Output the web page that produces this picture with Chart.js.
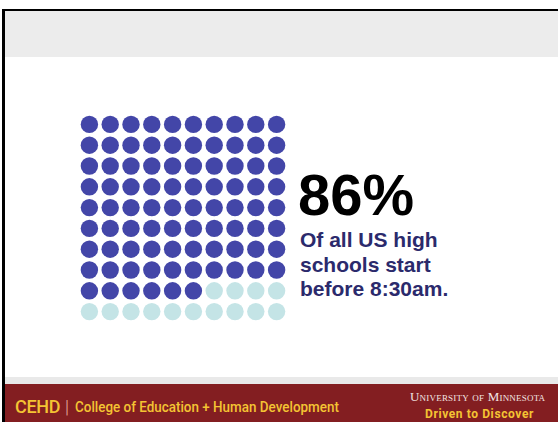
<!DOCTYPE html>
<html>
<head>
<meta charset="utf-8">
<script src="https://cdn.jsdelivr.net/npm/chart.js@4"></script>
<style>
  html, body { margin: 0; padding: 0; }
  body { width: 558px; height: 422px; position: relative; overflow: hidden; background: #fff; font-family: "Liberation Sans", Arial, sans-serif; }
  #topline { position: absolute; left: 2px; top: 9px; width: 556px; height: 2px; background: #000; }
  #leftline { position: absolute; left: 2px; top: 9px; width: 3px; height: 413px; background: #000; }
  #header { position: absolute; left: 5px; top: 11px; width: 553px; height: 46px; background: #ececec; }
  #footline { position: absolute; left: 5px; top: 377px; width: 553px; height: 7px; background: #e9e9e9; }
  #footer { position: absolute; left: 5px; top: 384px; width: 553px; height: 38px; background: #831e21; }
  #waffle { position: absolute; left: 79px; top: 114px; width: 208px; height: 208px; }
  #big { position: absolute; left: 298px; top: 160px; font-size: 58px; font-weight: bold; color: #000; line-height: 70px; }
  #sub { position: absolute; left: 300px; top: 228px; font-size: 21px; font-weight: bold; color: #2b2a6c; line-height: 24.5px; }
  #cehd { position: absolute; left: 15px; top: 396px; font-family: Roboto, sans-serif; font-weight: 500; font-size: 18px; color: #f4c433; letter-spacing: -0.3px; }
  #bar { position: absolute; left: 65px; top: 396px; font-family: Roboto, sans-serif; font-weight: 300; font-size: 18px; color: #e8b0a0; }
  #college { position: absolute; left: 75px; top: 398px; font-family: Roboto, sans-serif; font-weight: 500; font-size: 15px; color: #f4c433; transform: scaleX(0.895); transform-origin: left top; white-space: nowrap; }
  #umn { position: absolute; left: 410px; top: 389px; font-family: "Liberation Serif", serif; font-size: 13px; color: #f3e6e3; font-variant: small-caps; letter-spacing: 0.2px; white-space: nowrap; }
  #driven { position: absolute; left: 425px; top: 407px; font-family: Roboto, sans-serif; font-weight: 700; font-size: 12px; color: #f4c433; letter-spacing: 0.6px; white-space: nowrap; }
</style>
</head>
<body>
<div id="header"></div>
<div id="topline"></div>
<div id="leftline"></div>
<div id="footline"></div>
<div id="footer"></div>
<div id="waffle"><canvas id="waffleChart"></canvas></div>
<div id="big">86%</div>
<div id="sub">Of all US high<br>schools start<br>before 8:30am.</div>
<div id="cehd">CEHD</div>
<div id="bar">|</div>
<div id="college">College of Education + Human Development</div>
<div id="umn">University of Minnesota</div>
<div id="driven">Driven to Discover</div>
<script>
const percentEarly = 86;
const totalDots = 100;
const gridCols = 10;
const seriesNames = ['Start before 8:30am', 'Start 8:30am or later'];
const seriesColors = ['#4346a8', '#c4e4e6'];

const earlyDots = [];
const lateDots = [];
for (let i = 0; i < totalDots; i++) {
  const p = { x: i % gridCols, y: Math.floor(i / gridCols) };
  if (i < percentEarly) earlyDots.push(p); else lateDots.push(p);
}

new Chart(document.getElementById('waffleChart'), {
  type: 'scatter',
  data: {
    datasets: [{
      label: seriesNames[0],
      data: earlyDots,
      pointBackgroundColor: seriesColors[0],
      pointBorderWidth: 0,
      pointRadius: 8.7,
      clip: false
    }, {
      label: seriesNames[1],
      data: lateDots,
      pointBackgroundColor: seriesColors[1],
      pointBorderWidth: 0,
      pointRadius: 8.7,
      clip: false
    }]
  },
  options: {
    responsive: true,
    maintainAspectRatio: false,
    animation: false,
    layout: { padding: 0, autoPadding: false },
    plugins: { legend: { display: false }, tooltip: { enabled: false } },
    scales: {
      x: { display: false, min: -0.5, max: gridCols - 0.5 },
      y: { display: false, min: -0.5, max: totalDots / gridCols - 0.5, reverse: true }
    }
  }
});
</script>
</body>
</html>
